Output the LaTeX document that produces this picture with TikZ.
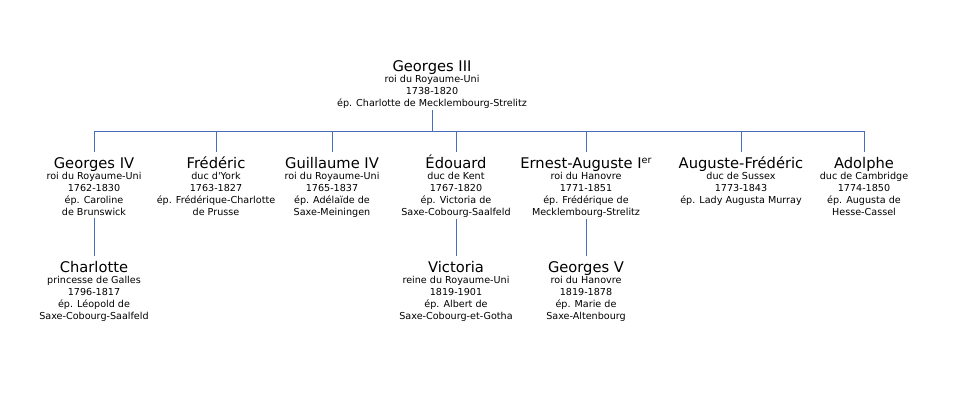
\documentclass[tikz,border=0pt]{standalone}
\usepackage{fontspec}
\setmainfont{DejaVu Sans}
\definecolor{linkblue}{RGB}{70,110,186}
\newcommand{\who}[1]{{\fontsize{14.7}{15}\selectfont\rule{0pt}{14pt}#1}}
\newcommand{\supsc}[1]{\raisebox{5pt}{\fontsize{9.6}{10}\selectfont #1}}
\tikzset{
  person/.style={anchor=north, align=center, inner sep=2pt,
    font=\fontsize{9.6}{12}\selectfont},
  link/.style={draw=linkblue, line width=0.8pt}
}
\begin{document}
\begin{tikzpicture}[x=1pt, y=-1pt]
    \useasboundingbox (0,0) rectangle (960,412);
    \begin{scope}[every node/.style={person}]
      \node (g3) at (432,55) {\who{Georges III}\\[-1pt] roi du Royaume-Uni\\ 1738-1820\\ ép. Charlotte de Mecklembourg-Strelitz};
      \node (g4) at (94,152) {\who{Georges IV}\\[-1pt] roi du Royaume-Uni\\ 1762-1830\\ ép. Caroline\\ de Brunswick};
      \node (fred) at (216,152) {\who{Frédéric}\\[-1pt] duc d\textquotesingle York\\ 1763-1827\\ ép. Frédérique-Charlotte\\ de Prusse};
      \node (guil) at (332,152) {\who{Guillaume IV}\\[-1pt] roi du Royaume-Uni\\ 1765-1837\\ ép. Adélaïde de\\ Saxe-Meiningen};
      \node (edou) at (456,152) {\who{Édouard}\\[-1pt] duc de Kent\\ 1767-1820\\ ép. Victoria de\\ Saxe-Cobourg-Saalfeld};
      \node (ernest) at (586,152) {\who{Ernest-Auguste I\supsc{er}}\\[-1pt] roi du Hanovre\\ 1771-1851\\ ép. Frédérique de\\ Mecklembourg-Strelitz};
      \node (augf) at (741,152) {\who{Auguste-Frédéric}\\[-1pt] duc de Sussex\\ 1773-1843\\ ép. Lady Augusta Murray};
      \node (adol) at (864,152) {\who{Adolphe}\\[-1pt] duc de Cambridge\\ 1774-1850\\ ép. Augusta de\\ Hesse-Cassel};
      \node (charl) at (94,256) {\who{Charlotte}\\[-1pt] princesse de Galles\\ 1796-1817\\ ép. Léopold de\\ Saxe-Cobourg-Saalfeld};
      \node (vict) at (456,256) {\who{Victoria}\\[-1pt] reine du Royaume-Uni\\ 1819-1901\\ ép. Albert de\\ Saxe-Cobourg-et-Gotha};
      \node (g5) at (586,256) {\who{Georges V}\\[-1pt] roi du Hanovre\\ 1819-1878\\ ép. Marie de\\ Saxe-Altenbourg};
    \end{scope}
    \coordinate (bus) at (432,131);

    \draw[link] (g3) -- (bus);
    \foreach \kid in {g4,fred,guil,edou,ernest,augf,adol}
      \draw[link] (bus) -| (\kid.north);
    \draw[link] (g4) -- (charl);
    \draw[link] (edou) -- (vict);
    \draw[link] (ernest) -- (g5);
\end{tikzpicture}
\end{document}
